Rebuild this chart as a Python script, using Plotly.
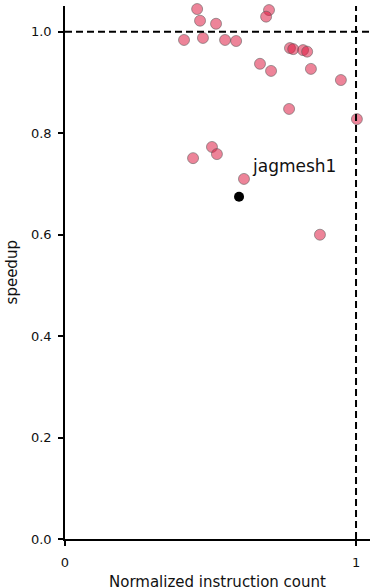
import plotly.graph_objects as go

# Normalized instruction count (x) and speedup (y) for the benchmark set
norm_instr = [0.454, 0.464, 0.519, 0.409, 0.474, 0.550, 0.588, 0.667, 0.701, 0.691,
              0.773, 0.784, 0.818, 0.832, 0.670, 0.708, 0.845, 0.948, 0.770, 1.003,
              1.058, 0.505, 0.522, 0.440, 0.615, 0.876]
speedup = [1.045, 1.022, 1.016, 0.984, 0.988, 0.984, 0.982, 1.057, 1.043, 1.030,
           0.968, 0.966, 0.964, 0.961, 0.937, 0.923, 0.927, 0.905, 0.848, 0.828,
           0.830, 0.773, 0.759, 0.751, 0.710, 0.600]

# Highlighted benchmark
hl_name = "jagmesh1"
hl_x = [0.598]
hl_y = [0.675]

x_ticks = [0, 1]
y_ticks = [0.0, 0.2, 0.4, 0.6, 0.8, 1.0]

FONT = "DejaVu Sans"

fig = go.Figure()
fig.add_trace(go.Scatter(
    x=norm_instr, y=speedup, mode="markers",
    marker=dict(size=11, color="rgba(220,20,60,0.52)",
                line=dict(color="rgba(90,90,90,0.55)", width=1)),
    cliponaxis=False, showlegend=False, hoverinfo="skip"))
fig.add_trace(go.Scatter(
    x=hl_x, y=hl_y, mode="markers",
    marker=dict(size=10, color="black"),
    cliponaxis=False, showlegend=False, hoverinfo="skip"))

fig.add_annotation(x=0.637, y=0.736, text=hl_name, showarrow=False,
                   xanchor="left", yanchor="middle",
                   font=dict(family=FONT, size=17, color="#111"))

# axis titles
fig.add_annotation(xref="paper", yref="paper", x=0.5, y=-0.081,
                   text="Normalized instruction count", showarrow=False,
                   xanchor="center", yanchor="middle",
                   font=dict(family=FONT, size=15, color="#111"))
fig.add_annotation(xref="paper", yref="paper", x=-0.174, y=0.5,
                   text="speedup", showarrow=False, textangle=-90,
                   xanchor="center", yanchor="middle",
                   font=dict(family=FONT, size=15, color="#111"))

# reference lines
fig.add_shape(type="line", xref="x", yref="paper", x0=1, x1=1, y0=0, y1=1,
              line=dict(color="black", width=2, dash="7px,4px"), layer="above")
fig.add_shape(type="line", xref="paper", yref="y", x0=0, x1=1, y0=1, y1=1,
              line=dict(color="black", width=2, dash="7px,4px"), layer="above")

fig.update_xaxes(range=[0, 1.048], tickvals=x_ticks, ticktext=["0", "1"],
                 showgrid=False, zeroline=False, showline=True, linecolor="black",
                 linewidth=1.5, ticks="outside", ticklen=5, tickwidth=1.5,
                 tickcolor="black", automargin=False, ticklabelstandoff=6,
                 tickfont=dict(family=FONT, size=13, color="#111"))
fig.update_yaxes(range=[0, 1.051], tickvals=y_ticks, tickformat=".1f",
                 showgrid=False, zeroline=False, showline=True, linecolor="black",
                 linewidth=1.5, ticks="outside", ticklen=5, tickwidth=1.5,
                 tickcolor="black", automargin=False, ticklabelstandoff=4,
                 tickfont=dict(family=FONT, size=13, color="#111"))

fig.update_layout(width=370, height=587,
                  margin=dict(l=65, r=0, t=6, b=48),
                  plot_bgcolor="white", paper_bgcolor="white")

fig.write_html("out.html")
